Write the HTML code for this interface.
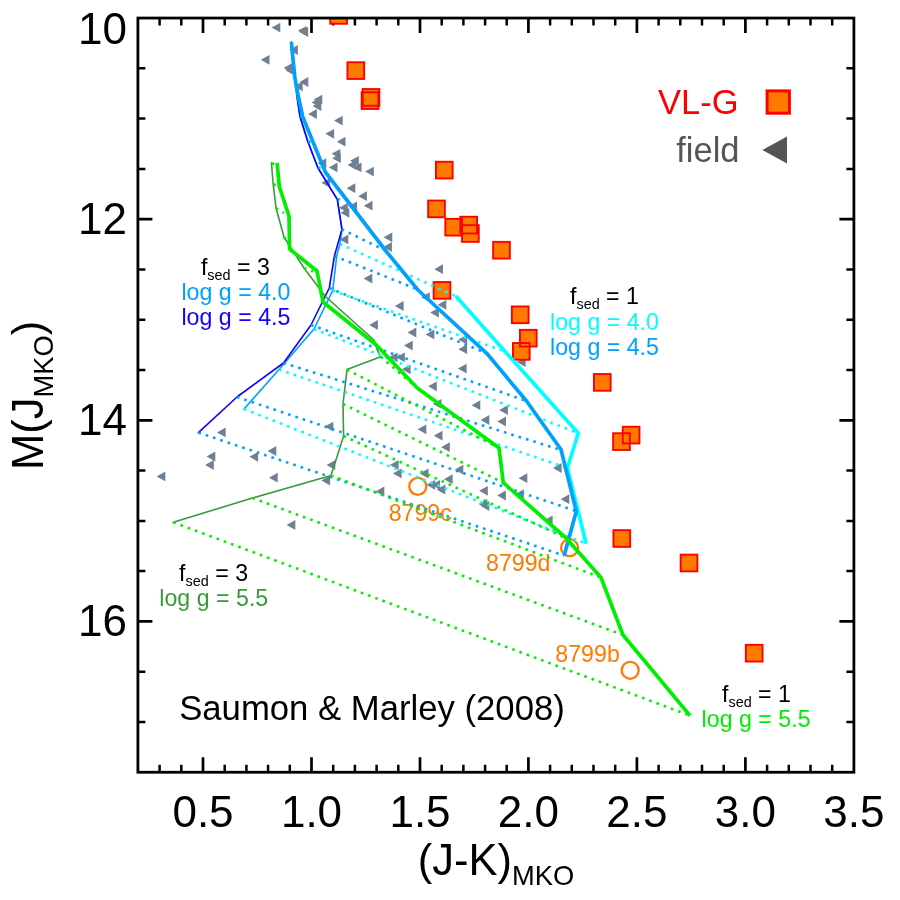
<!DOCTYPE html>
<html><head><meta charset="utf-8"><title>CMD</title>
<style>html,body{margin:0;padding:0;background:#fff}svg{display:block;will-change:transform}text{font-family:"Liberation Sans",sans-serif}</style></head><body>
<svg width="900" height="900" viewBox="0 0 900 900">
<rect width="900" height="900" fill="#fff"/>
<defs><clipPath id="c"><rect x="137.9" y="18.05" width="716.0" height="754.2"/></clipPath></defs>
<g stroke="#000" fill="none">
<path d="M203.0,18.05v15M203.0,772.25v-15M311.5,18.05v15M311.5,772.25v-15M420.0,18.05v15M420.0,772.25v-15M528.4,18.05v15M528.4,772.25v-15M636.9,18.05v15M636.9,772.25v-15M745.4,18.05v15M745.4,772.25v-15M137.9,219.2h14.5M853.9,219.2h-14.5M137.9,420.3h14.5M853.9,420.3h-14.5M137.9,621.4h14.5M853.9,621.4h-14.5" stroke-width="2.7"/>
<path d="M159.6,18.05v7.5M159.6,772.25v-7.5M181.3,18.05v7.5M181.3,772.25v-7.5M224.7,18.05v7.5M224.7,772.25v-7.5M246.4,18.05v7.5M246.4,772.25v-7.5M268.1,18.05v7.5M268.1,772.25v-7.5M289.8,18.05v7.5M289.8,772.25v-7.5M333.2,18.05v7.5M333.2,772.25v-7.5M354.9,18.05v7.5M354.9,772.25v-7.5M376.6,18.05v7.5M376.6,772.25v-7.5M398.3,18.05v7.5M398.3,772.25v-7.5M441.7,18.05v7.5M441.7,772.25v-7.5M463.4,18.05v7.5M463.4,772.25v-7.5M485.1,18.05v7.5M485.1,772.25v-7.5M506.7,18.05v7.5M506.7,772.25v-7.5M550.1,18.05v7.5M550.1,772.25v-7.5M571.8,18.05v7.5M571.8,772.25v-7.5M593.5,18.05v7.5M593.5,772.25v-7.5M615.2,18.05v7.5M615.2,772.25v-7.5M658.6,18.05v7.5M658.6,772.25v-7.5M680.3,18.05v7.5M680.3,772.25v-7.5M702.0,18.05v7.5M702.0,772.25v-7.5M723.7,18.05v7.5M723.7,772.25v-7.5M767.1,18.05v7.5M767.1,772.25v-7.5M788.8,18.05v7.5M788.8,772.25v-7.5M810.5,18.05v7.5M810.5,772.25v-7.5M832.2,18.05v7.5M832.2,772.25v-7.5M137.9,68.3h7.5M853.9,68.3h-7.5M137.9,118.6h7.5M853.9,118.6h-7.5M137.9,168.9h7.5M853.9,168.9h-7.5M137.9,269.4h7.5M853.9,269.4h-7.5M137.9,319.7h7.5M853.9,319.7h-7.5M137.9,370.0h7.5M853.9,370.0h-7.5M137.9,470.6h7.5M853.9,470.6h-7.5M137.9,520.9h7.5M853.9,520.9h-7.5M137.9,571.1h7.5M853.9,571.1h-7.5M137.9,671.7h7.5M853.9,671.7h-7.5M137.9,722.0h7.5M853.9,722.0h-7.5" stroke-width="2.5"/>
</g>
<g clip-path="url(#c)">
<g fill="#708090">
<path d="M271.6,27.6L280.3,22.7V32.5z"/>
<path d="M297.8,30.8L306.5,25.9V35.7z"/>
<path d="M299.4,32.0L308.1,27.1V36.9z"/>
<path d="M289.2,50.0L297.9,45.1V54.9z"/>
<path d="M260.8,59.8L269.5,54.9V64.7z"/>
<path d="M283.6,68.0L292.3,63.1V72.9z"/>
<path d="M285.6,70.4L294.3,65.5V75.3z"/>
<path d="M299.6,82.0L308.3,77.1V86.9z"/>
<path d="M294.0,86.4L302.7,81.5V91.3z"/>
<path d="M313.6,99.6L322.3,94.7V104.5z"/>
<path d="M311.6,102.4L320.3,97.5V107.3z"/>
<path d="M312.6,106.0L321.3,101.1V110.9z"/>
<path d="M308.2,114.0L316.9,109.1V118.9z"/>
<path d="M334.0,120.6L342.7,115.7V125.5z"/>
<path d="M325.4,133.8L334.1,128.9V138.7z"/>
<path d="M336.8,141.7L345.5,136.8V146.6z"/>
<path d="M331.6,153.8L340.3,148.9V158.7z"/>
<path d="M332.1,158.2L340.8,153.3V163.1z"/>
<path d="M317.6,163.2L326.3,158.3V168.1z"/>
<path d="M350.1,160.8L358.8,155.9V165.7z"/>
<path d="M347.6,165.0L356.3,160.1V169.9z"/>
<path d="M352.8,167.4L361.5,162.5V172.3z"/>
<path d="M328.8,167.4L337.5,162.5V172.3z"/>
<path d="M365.1,171.6L373.8,166.7V176.5z"/>
<path d="M321.4,182.8L330.1,177.9V187.7z"/>
<path d="M346.6,188.2L355.3,183.3V193.1z"/>
<path d="M358.2,196.2L366.9,191.3V201.1z"/>
<path d="M363.8,205.7L372.5,200.8V210.6z"/>
<path d="M348.3,206.4L357.0,201.5V211.3z"/>
<path d="M339.1,207.8L347.8,202.9V212.7z"/>
<path d="M340.6,212.8L349.3,207.9V217.7z"/>
<path d="M339.6,239.4L348.3,234.5V244.3z"/>
<path d="M383.6,237.3L392.3,232.4V242.2z"/>
<path d="M383.2,247.0L391.9,242.1V251.9z"/>
<path d="M363.6,278.6L372.3,273.7V283.5z"/>
<path d="M394.9,306.0L403.6,301.1V310.9z"/>
<path d="M369.2,325.0L377.9,320.1V329.9z"/>
<path d="M407.6,332.5L416.3,327.6V337.4z"/>
<path d="M404.0,345.6L412.7,340.7V350.5z"/>
<path d="M388.9,357.3L397.6,352.4V362.2z"/>
<path d="M396.1,357.3L404.8,352.4V362.2z"/>
<path d="M434.3,269.2L443.0,264.3V274.1z"/>
<path d="M421.1,297.2L429.8,292.3V302.1z"/>
<path d="M437.6,304.8L446.3,299.9V309.7z"/>
<path d="M430.2,312.6L438.9,307.7V317.5z"/>
<path d="M425.6,334.4L434.3,329.5V339.3z"/>
<path d="M458.4,339.5L467.1,334.6V344.4z"/>
<path d="M458.4,349.2L467.1,344.3V354.1z"/>
<path d="M401.9,369.3L410.6,364.4V374.2z"/>
<path d="M457.9,368.6L466.6,363.7V373.5z"/>
<path d="M428.1,386.3L436.8,381.4V391.2z"/>
<path d="M516.9,362.0L525.6,357.1V366.9z"/>
<path d="M432.8,403.8L441.5,398.9V408.7z"/>
<path d="M471.6,405.2L480.3,400.3V410.1z"/>
<path d="M499.2,410.1L507.9,405.2V415.0z"/>
<path d="M480.6,420.0L489.3,415.1V424.9z"/>
<path d="M497.3,421.5L506.0,416.6V426.4z"/>
<path d="M417.6,429.3L426.3,424.4V434.2z"/>
<path d="M433.8,435.7L442.5,430.8V440.6z"/>
<path d="M441.1,447.2L449.8,442.3V452.1z"/>
<path d="M454.6,469.7L463.3,464.8V474.6z"/>
<path d="M419.8,473.5L428.5,468.6V478.4z"/>
<path d="M443.9,479.2L452.6,474.3V484.1z"/>
<path d="M518.6,478.2L527.3,473.3V483.1z"/>
<path d="M552.9,468.0L561.6,463.1V472.9z"/>
<path d="M426.4,484.8L435.1,479.9V489.7z"/>
<path d="M431.4,484.8L440.1,479.9V489.7z"/>
<path d="M436.6,489.5L445.3,484.6V494.4z"/>
<path d="M479.1,490.8L487.8,485.9V495.7z"/>
<path d="M497.2,495.5L505.9,490.6V500.4z"/>
<path d="M515.1,494.2L523.8,489.3V499.1z"/>
<path d="M560.6,499.2L569.3,494.3V504.1z"/>
<path d="M478.6,504.0L487.3,499.1V508.9z"/>
<path d="M480.6,506.0L489.3,501.1V510.9z"/>
<path d="M543.9,520.5L552.6,515.6V525.4z"/>
<path d="M324.6,426.6L333.3,421.7V431.5z"/>
<path d="M267.6,451.0L276.3,446.1V455.9z"/>
<path d="M249.4,456.8L258.1,451.9V461.7z"/>
<path d="M326.6,465.0L335.3,460.1V469.9z"/>
<path d="M269.0,477.7L277.7,472.8V482.6z"/>
<path d="M321.4,480.5L330.1,475.6V485.4z"/>
<path d="M375.6,491.4L384.3,486.5V496.3z"/>
<path d="M389.9,465.0L398.6,460.1V469.9z"/>
<path d="M392.9,473.4L401.6,468.5V478.3z"/>
<path d="M217.0,432.4L225.7,427.5V437.3z"/>
<path d="M206.6,456.5L215.3,451.6V461.4z"/>
<path d="M205.1,465.0L213.8,460.1V469.9z"/>
<path d="M156.6,476.4L165.3,471.5V481.3z"/>
<path d="M286.6,525.0L295.3,520.1V529.9z"/>
</g>
<g fill="#FF7A00">
<rect x="330.25" y="7.05" width="16.7" height="16.7"/>
<rect x="347.45" y="62.25" width="16.7" height="16.7"/>
<rect x="362.65" y="89.05" width="16.7" height="16.7"/>
<rect x="361.65" y="92.25" width="16.7" height="16.7"/>
<rect x="435.95" y="161.75" width="16.7" height="16.7"/>
<rect x="428.15" y="200.55" width="16.7" height="16.7"/>
<rect x="445.35" y="218.85" width="16.7" height="16.7"/>
<rect x="460.35" y="216.75" width="16.7" height="16.7"/>
<rect x="462.05" y="225.15" width="16.7" height="16.7"/>
<rect x="493.15" y="241.85" width="16.7" height="16.7"/>
<rect x="433.65" y="282.05" width="16.7" height="16.7"/>
<rect x="511.85" y="306.45" width="16.7" height="16.7"/>
<rect x="519.95" y="329.85" width="16.7" height="16.7"/>
<rect x="512.95" y="343.05" width="16.7" height="16.7"/>
<rect x="593.95" y="374.05" width="16.7" height="16.7"/>
<rect x="622.75" y="426.75" width="16.7" height="16.7"/>
<rect x="613.15" y="433.25" width="16.7" height="16.7"/>
<rect x="613.45" y="530.15" width="16.7" height="16.7"/>
<rect x="680.65" y="554.65" width="16.7" height="16.7"/>
<rect x="745.85" y="644.85" width="16.7" height="16.7"/>
</g>
<g fill="none" stroke="#FF0000" stroke-width="1.9">
<rect x="330.25" y="7.05" width="16.7" height="16.7"/>
<rect x="347.45" y="62.25" width="16.7" height="16.7"/>
<rect x="362.65" y="89.05" width="16.7" height="16.7"/>
<rect x="361.65" y="92.25" width="16.7" height="16.7"/>
<rect x="435.95" y="161.75" width="16.7" height="16.7"/>
<rect x="428.15" y="200.55" width="16.7" height="16.7"/>
<rect x="445.35" y="218.85" width="16.7" height="16.7"/>
<rect x="460.35" y="216.75" width="16.7" height="16.7"/>
<rect x="462.05" y="225.15" width="16.7" height="16.7"/>
<rect x="493.15" y="241.85" width="16.7" height="16.7"/>
<rect x="433.65" y="282.05" width="16.7" height="16.7"/>
<rect x="511.85" y="306.45" width="16.7" height="16.7"/>
<rect x="519.95" y="329.85" width="16.7" height="16.7"/>
<rect x="512.95" y="343.05" width="16.7" height="16.7"/>
<rect x="593.95" y="374.05" width="16.7" height="16.7"/>
<rect x="622.75" y="426.75" width="16.7" height="16.7"/>
<rect x="613.15" y="433.25" width="16.7" height="16.7"/>
<rect x="613.45" y="530.15" width="16.7" height="16.7"/>
<rect x="680.65" y="554.65" width="16.7" height="16.7"/>
<rect x="745.85" y="644.85" width="16.7" height="16.7"/>
</g>
<g fill="none" stroke="#FF7A00" stroke-width="2.3">
<circle cx="417.8" cy="486.4" r="8.5"/>
<circle cx="569.6" cy="547.7" r="8.5"/>
<circle cx="630.2" cy="670.3" r="8.5"/>
</g>
<text x="388.7" y="520.7" font-size="23.2" fill="#FF7A00">8799c</text>
<text x="486" y="570.6" font-size="23.2" fill="#FF7A00">8799d</text>
<text x="555.3" y="662.4" font-size="23.2" fill="#FF7A00">8799b</text>
<g fill="none" stroke-linejoin="round" stroke-linecap="round">
<polyline points="291.4,42.4 293.2,60.0 295.2,80.0 297.5,100.0 300.0,116.7 308.0,142.0 318.0,168.0 337.3,199.3 342.0,229.3 340.0,244.0 336.7,256.0 332.7,290.7 314.0,329.0 279.0,369.6 244.0,409.0" stroke="#00A0FF" stroke-width="1.6"/>
<polyline points="291.4,42.4 293.2,60.0 295.2,80.0 297.5,100.0 300.0,116.7 308.0,142.0 318.0,168.0 337.3,199.3 342.0,229.3 334.4,256.0 329.3,288.0 311.0,325.0 283.5,363.0 237.0,397.0 198.4,432.6" stroke="#1400FF" stroke-width="1.6"/>
<polyline points="271.4,162.8 273.2,184.3 276.0,208.0 284.0,237.0 304.0,268.0 325.0,296.0 374.0,340.0 377.3,350.0 380.7,356.7 347.0,369.6 343.0,404.0 343.6,436.0 331.0,475.6 252.4,498.0 173.3,522.3" stroke="#3A9A3A" stroke-width="1.6"/>
<g stroke="#00FFFF" stroke-width="2.6" stroke-linecap="butt" stroke-dasharray="2.6 5.1">
<line x1="340" y1="244" x2="455.3" y2="296"/>
<line x1="332.7" y1="290.7" x2="505" y2="351.5"/>
<line x1="314" y1="329" x2="578.3" y2="433.3"/>
<line x1="279" y1="369.6" x2="567.4" y2="468"/>
<line x1="244" y1="409" x2="586.2" y2="543.7"/>
</g>
<g stroke="#00A0FF" stroke-width="2.6" stroke-linecap="butt" stroke-dasharray="2.6 5.1">
<line x1="300" y1="116.7" x2="303" y2="116.7"/>
<line x1="308" y1="142" x2="313" y2="141.6"/>
<line x1="318" y1="168" x2="323.5" y2="168"/>
<line x1="337.3" y1="199.3" x2="345" y2="200"/>
<line x1="341.7" y1="229.3" x2="385.5" y2="250.5"/>
<line x1="334.4" y1="256" x2="417.3" y2="289.3"/>
<line x1="329.3" y1="288" x2="486.7" y2="353.3"/>
<line x1="311" y1="325" x2="526.5" y2="401"/>
<line x1="283.5" y1="363" x2="561" y2="450"/>
<line x1="237" y1="397" x2="576" y2="511"/>
<line x1="198.4" y1="432.6" x2="564.3" y2="555.6"/>
</g>
<g stroke="#00EE00" stroke-width="2.6" stroke-linecap="butt" stroke-dasharray="2.6 5.1">
<line x1="347" y1="369.6" x2="499" y2="448"/>
<line x1="343" y1="404" x2="503.3" y2="482.7"/>
<line x1="343.6" y1="436" x2="566" y2="538"/>
<line x1="331" y1="475.6" x2="601" y2="577.6"/>
<line x1="252.4" y1="498" x2="623" y2="635"/>
<line x1="173.3" y1="522.3" x2="690" y2="715.6"/>
<line x1="380.7" y1="356.7" x2="417.3" y2="388"/>
<line x1="271.6" y1="163.6" x2="277.2" y2="163.6"/>
<line x1="273.3" y1="184.3" x2="279.3" y2="186.5"/>
<line x1="276" y1="208" x2="284" y2="213"/>
<line x1="284" y1="237" x2="289.6" y2="246"/>
<line x1="304" y1="268" x2="313" y2="271.5"/>
</g>
<polyline points="455.8,296.0 505.0,351.5 578.3,433.3 567.4,468.0 586.2,543.7" stroke="#00FFFF" stroke-width="3.7" stroke-linecap="butt"/>
<polyline points="291.4,42.4 292.8,57.0 294.8,77.0 297.4,92.0 302.7,116.7 325.3,172.0 385.5,250.5 418.0,290.0 486.7,353.3 526.5,401.0 561.0,449.5 576.3,511.3 564.2,555.6" stroke="#00A0FF" stroke-width="3.7" stroke-linecap="butt"/>
<polyline points="277.1,162.8 279.3,186.5 289.0,216.0 289.6,249.0 317.0,271.0 323.0,302.0 376.0,344.7 417.3,388.0 499.0,448.0 503.3,482.7 566.0,538.0 601.0,577.6 623.0,635.0 690.0,715.6" stroke="#00EE00" stroke-width="3.7" stroke-linecap="butt"/>
</g>
</g>
<rect x="137.9" y="18.05" width="716.00" height="754.20" stroke="#000" fill="none" stroke-width="2.8"/>
<g font-size="44" fill="#000">
<text x="203.0" y="827" text-anchor="middle">0.5</text>
<text x="311.5" y="827" text-anchor="middle">1.0</text>
<text x="420.0" y="827" text-anchor="middle">1.5</text>
<text x="528.4" y="827" text-anchor="middle">2.0</text>
<text x="636.9" y="827" text-anchor="middle">2.5</text>
<text x="745.4" y="827" text-anchor="middle">3.0</text>
<text x="853.9" y="827" text-anchor="middle">3.5</text>
<text x="127" y="44.4" text-anchor="end">10</text>
<text x="127" y="233.5" text-anchor="end">12</text>
<text x="127" y="434.5" text-anchor="end">14</text>
<text x="127" y="635.5" text-anchor="end">16</text>
<text x="417.8" y="874.5" font-size="43.5">(J-K)<tspan font-size="27.3" dy="10">MKO</tspan></text>
<text transform="translate(42.6,470) rotate(-90)" font-size="43.5">M(J<tspan font-size="27.3" dy="10.5">MKO</tspan><tspan dy="-10.5">)</tspan></text>
</g>
<text x="738.5" y="113.6" font-size="34.5" fill="#FF0000" text-anchor="end">VL-G</text>
<rect x="767.1" y="90.9" width="22.3" height="22.3" fill="#FF7A00" stroke="#FF0000" stroke-width="3"/>
<text x="739.5" y="162" font-size="34.5" fill="#555555" text-anchor="end">field</text>
<path d="M762.4,150L787,136.4V163.6z" fill="#555555"/>
<text x="235.4" y="274.6" font-size="23.2" text-anchor="middle" fill="#000">f<tspan font-size="14.4" dy="5.1">sed</tspan><tspan dy="-5.1"> = 3</tspan></text>
<text x="235.9" y="299.5" font-size="23.2" fill="#00A0FF" text-anchor="middle">log g = 4.0</text>
<text x="235.9" y="324.7" font-size="23.2" fill="#1400FF" text-anchor="middle">log g = 4.5</text>
<text x="604.5" y="304.1" font-size="23.2" text-anchor="middle" fill="#000">f<tspan font-size="14.4" dy="5.1">sed</tspan><tspan dy="-5.1"> = 1</tspan></text>
<text x="604.5" y="329.5" font-size="23.2" fill="#00FFFF" text-anchor="middle">log g = 4.0</text>
<text x="604.5" y="354.7" font-size="23.2" fill="#00A0FF" text-anchor="middle">log g = 4.5</text>
<text x="213.6" y="581.1" font-size="23.2" text-anchor="middle" fill="#000">f<tspan font-size="14.4" dy="5.1">sed</tspan><tspan dy="-5.1"> = 3</tspan></text>
<text x="213.8" y="605.7" font-size="23.2" fill="#3A9A3A" text-anchor="middle">log g = 5.5</text>
<text x="756.5" y="701.7" font-size="23.2" text-anchor="middle" fill="#000">f<tspan font-size="14.4" dy="5.1">sed</tspan><tspan dy="-5.1"> = 1</tspan></text>
<text x="756.1" y="727" font-size="23.2" fill="#00EE00" text-anchor="middle">log g = 5.5</text>
<text x="179.2" y="719.5" font-size="34.7" fill="#000">Saumon &amp; Marley (2008)</text>
</svg></body></html>
